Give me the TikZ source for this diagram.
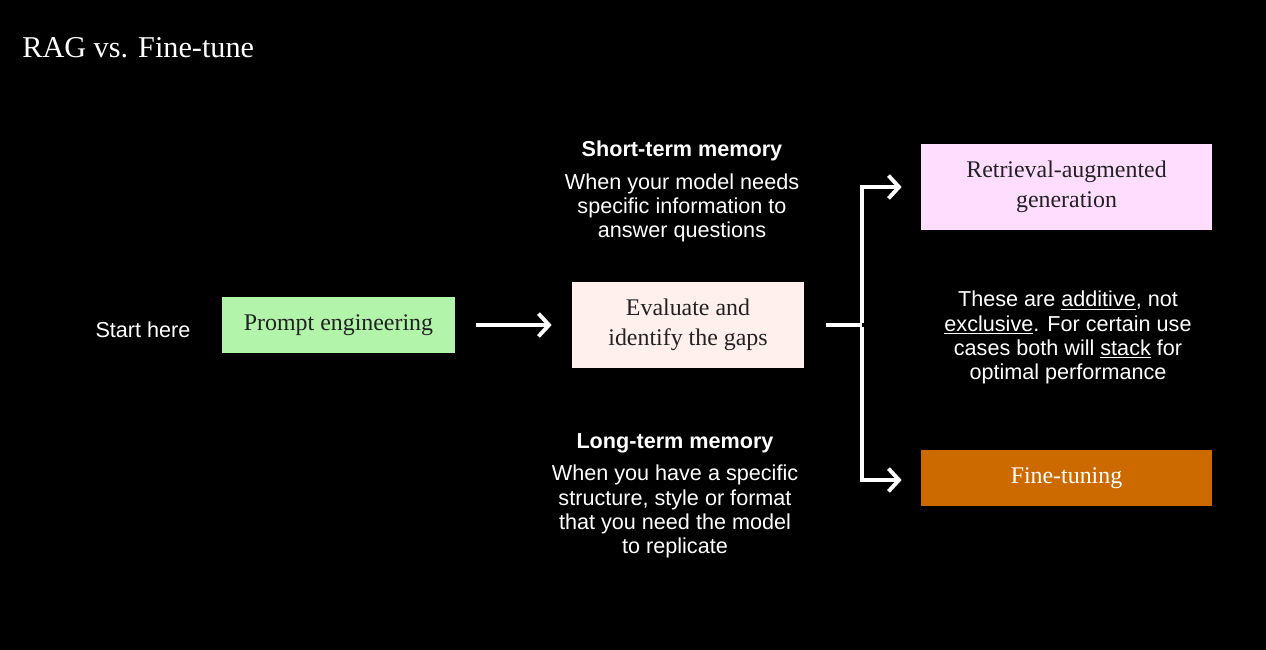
\documentclass[tikz,border=0pt]{standalone}
\usepackage{fontspec}
\setmainfont{Liberation Serif}
\setsansfont{Liberation Sans}
\usetikzlibrary{arrows.meta}

\definecolor{promptgreen}{HTML}{B2F5AA}
\definecolor{evalpink}{HTML}{FFF0EE}
\definecolor{ragpink}{HTML}{FFDDFF}
\definecolor{fineorange}{HTML}{CC6A00}
\definecolor{boxtext}{HTML}{222222}

\tikzset{
    box/.style={inner sep=0pt,align=center,text=boxtext,font=\fontsize{13.6}{17}\selectfont},
    note/.style={text=white,align=center,font=\sffamily\fontsize{12.3}{13.7}\selectfont},
    head/.style={text=white,font=\sffamily\bfseries\fontsize{12.3}{13.7}\selectfont},
    arrow/.style={white,line width=2.2pt,-{Straight Barb[length=6pt,width=13pt,line width=2.2pt]}},
    line/.style={white,line width=2.2pt}
}

\begin{document}
\begin{tikzpicture}
        \useasboundingbox[fill=black] (0,0) rectangle (25.32,-13);
        \pgfmathsetmacro\ya{-6.5}
        \pgfmathsetmacro\xs{17.24}
        \coordinate (split) at (\xs,\ya);

        \node[anchor=west,inner sep=0pt,text=white,font=\fontsize{17.2}{20}\selectfont] (title) at (0.44,-0.96) {RAG vs. Fine-tune};

        \node[text=white,font=\sffamily\fontsize{12.3}{13.7}\selectfont] (start) at (2.86,-6.6) {Start here};
        \node[box,fill=promptgreen,minimum width=4.66cm,minimum height=1.12cm] (prompt) at (6.77,\ya) {Prompt engineering};
        \node[box,fill=evalpink,minimum width=4.64cm,minimum height=1.72cm] (evaluate) at (13.76,\ya) {Evaluate and\\identify the gaps};
        \node[box,fill=ragpink,minimum width=5.82cm,minimum height=1.72cm] (rag) at (21.33,-3.74) {Retrieval-augmented\\generation};
        \node[box,fill=fineorange,text=white,minimum width=5.82cm,minimum height=1.12cm] (finetune) at (21.33,-9.56) {Fine-tuning};

        \node[head] (shorthead) at (13.64,-3.02) {Short-term memory};
        \node[note] (shortnote) at (13.64,-4.16) {When your model needs\\specific information to\\answer questions};
        \node[head] (longhead) at (13.5,-8.86) {Long-term memory};
        \node[note] (longnote) at (13.5,-10.23) {When you have a specific\\structure, style or format\\that you need the model\\to replicate};
        \node[note] (stacknote) at (21.36,-6.75) {These are \underline{additive}, not\\\underline{exclusive}. For certain use\\cases both will \underline{stack} for\\optimal performance};

        \draw[arrow,shorten <=0.42cm,shorten >=0.4cm] (prompt) -- (evaluate);
        \draw[line,shorten <=0.44cm] (evaluate.east) -- (split);
        \draw[arrow,shorten >=0.38cm] ([yshift=1.1pt]split) |- (rag);
        \draw[arrow,shorten >=0.38cm] ([yshift=-1.1pt]split) |- ([yshift=-0.04cm]finetune.west);
    \end{tikzpicture}
\end{document}
